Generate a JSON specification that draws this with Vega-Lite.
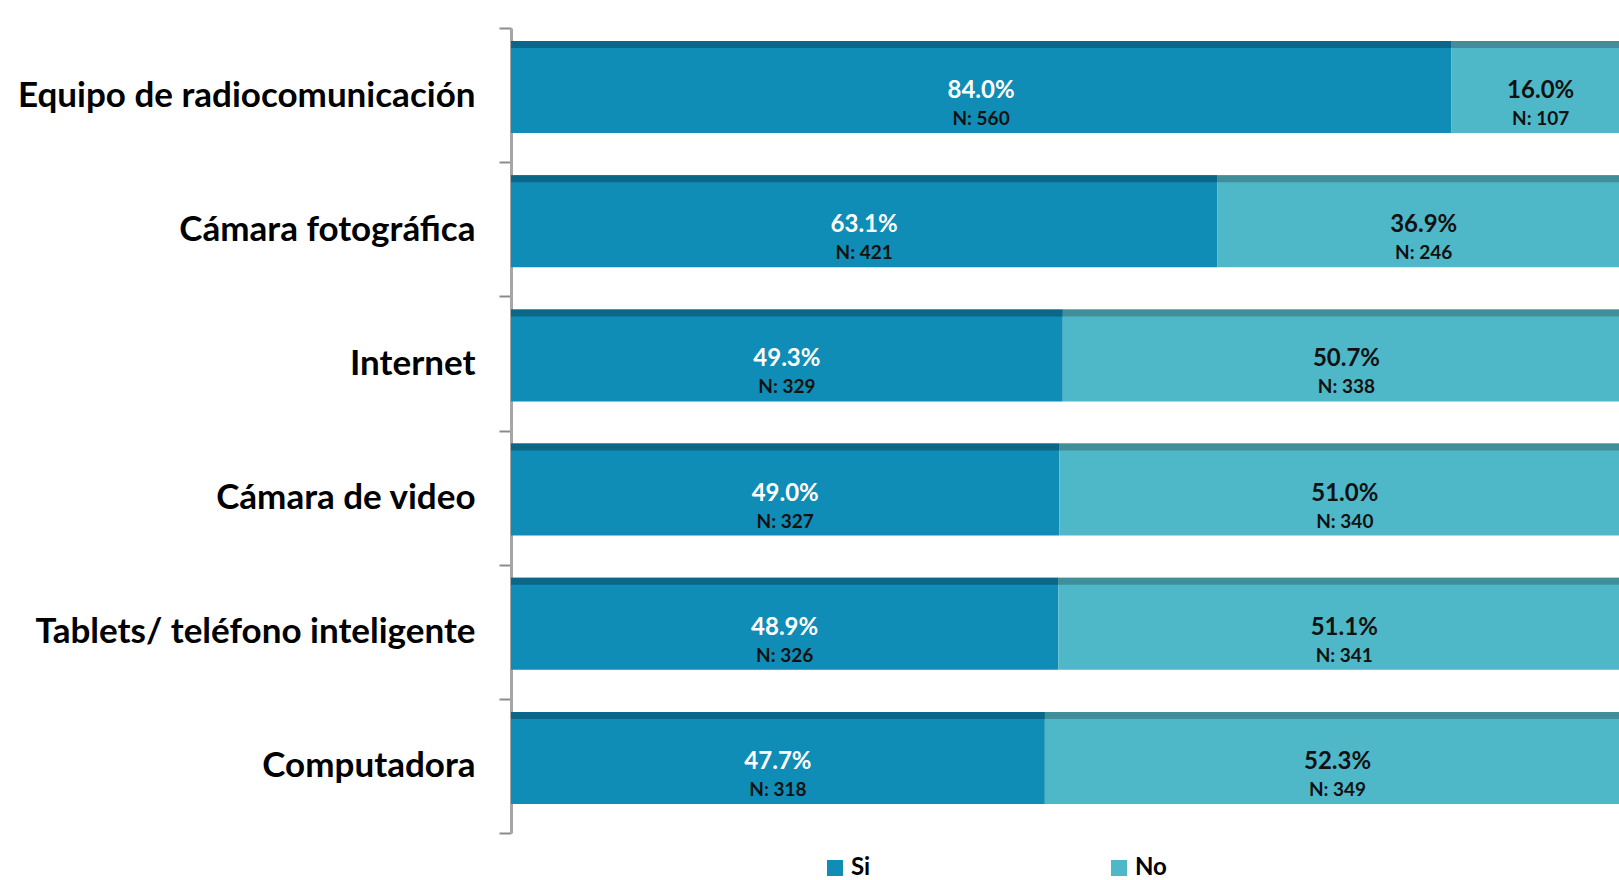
{
  "$schema": "https://vega.github.io/schema/vega-lite/v6.json",
  "width": 1108,
  "height": 805,
  "autosize": "none",
  "padding": {"left": 511, "top": 28, "right": 0, "bottom": 47},
  "background": "white",
  "config": {"view": {"stroke": null}, "font": "Lato"},
  "data": {"values": [
    {"cat": "Equipo de radiocomunicación", "resp": "Si", "pct": 84.0, "n": 560},
    {"cat": "Equipo de radiocomunicación", "resp": "No", "pct": 16.0, "n": 107},
    {"cat": "Cámara fotográfica", "resp": "Si", "pct": 63.1, "n": 421},
    {"cat": "Cámara fotográfica", "resp": "No", "pct": 36.9, "n": 246},
    {"cat": "Internet", "resp": "Si", "pct": 49.3, "n": 329},
    {"cat": "Internet", "resp": "No", "pct": 50.7, "n": 338},
    {"cat": "Cámara de video", "resp": "Si", "pct": 49.0, "n": 327},
    {"cat": "Cámara de video", "resp": "No", "pct": 51.0, "n": 340},
    {"cat": "Tablets/ teléfono inteligente", "resp": "Si", "pct": 48.9, "n": 326},
    {"cat": "Tablets/ teléfono inteligente", "resp": "No", "pct": 51.1, "n": 341},
    {"cat": "Computadora", "resp": "Si", "pct": 47.7, "n": 318},
    {"cat": "Computadora", "resp": "No", "pct": 52.3, "n": 349}
  ]},
  "transform": [
    {"calculate": "datum.resp === 'Si' ? 0 : 1", "as": "ord"},
    {"stack": "pct", "groupby": ["cat"], "sort": [{"field": "ord"}], "as": ["x0", "x1"]},
    {"calculate": "(datum.x0 + datum.x1) / 2", "as": "mid"},
    {"calculate": "format(datum.pct, '.1f') + '%'", "as": "plabel"},
    {"calculate": "'N: ' + datum.n", "as": "nlabel"}
  ],
  "encoding": {
    "y": {
      "field": "cat", "type": "nominal", "sort": null, "title": null,
      "scale": {"paddingInner": 0, "paddingOuter": 0},
      "axis": {
        "domainColor": "#a6a6a6", "domainWidth": 3,
        "tickColor": "#8c8c8c", "tickWidth": 2, "tickSize": 12, "tickBand": "extent",
        "labelFont": "Lato", "labelFontWeight": "bold", "labelFontSize": 35,
        "labelColor": "#000000", "labelPadding": 24, "labelLimit": 600
      }
    }
  },
  "layer": [
    {
      "mark": {"type": "bar", "height": 92, "yOffset": -8},
      "encoding": {
        "x": {"field": "x0", "type": "quantitative", "scale": {"domain": [0, 99], "nice": false, "clamp": true}, "axis": null},
        "x2": {"field": "x1"},
        "color": {
          "field": "resp", "type": "nominal", "title": null,
          "scale": {"domain": ["Si", "No"], "range": ["#0f8db6", "#4eb8c9"]},
          "legend": {
            "orient": "none", "direction": "horizontal", "legendX": 312, "legendY": 828,
            "symbolType": "square", "symbolSize": 256, "symbolStrokeWidth": 0,
            "labelFont": "Lato", "labelFontWeight": "bold", "labelFontSize": 24, "labelColor": "#000000",
            "labelOffset": 4, "columnPadding": 236
          }
        }
      }
    },
    {
      "mark": {"type": "bar", "height": 7, "yOffset": -50.5},
      "encoding": {
        "x": {"field": "x0", "type": "quantitative"},
        "x2": {"field": "x1"},
        "color": {"field": "resp", "type": "nominal", "legend": null,
          "scale": {"domain": ["Si", "No"], "range": ["#0a6787", "#3f8e99"]}}
      }
    },
    {
      "mark": {"type": "text", "fontWeight": "bold", "fontSize": 24, "dy": -4, "font": "Lato"},
      "encoding": {
        "x": {"field": "mid", "type": "quantitative"},
        "text": {"field": "plabel"},
        "color": {"condition": {"test": "datum.resp === 'Si'", "value": "#ffffff"}, "value": "#111111"}
      }
    },
    {
      "mark": {"type": "text", "fontWeight": "bold", "fontSize": 19, "dy": 24, "font": "Lato", "color": "#111111"},
      "encoding": {
        "x": {"field": "mid", "type": "quantitative"},
        "text": {"field": "nlabel"}
      }
    }
  ],
  "resolve": {"scale": {"color": "independent"}}
}
